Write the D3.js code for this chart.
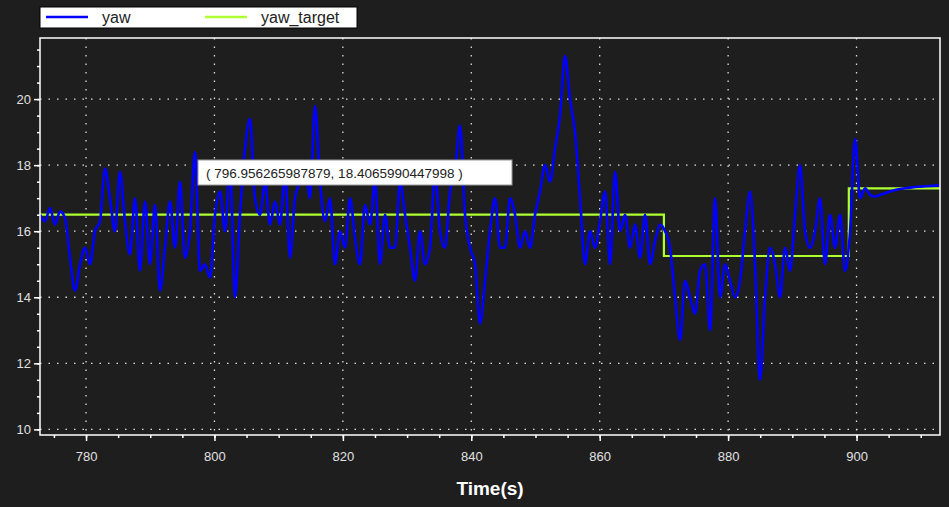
<!DOCTYPE html>
<html><head><meta charset="utf-8">
<script src="https://cdn.jsdelivr.net/npm/d3@7"></script>
<style>body{margin:0;background:#1e1e1e;}svg{display:block;font-family:"Liberation Sans",Arial,sans-serif;}</style>
</head><body><svg id="c" width="949" height="507"></svg>
<script>
const seriesNames = ["yaw", "yaw_target"];
const xTicks = [780, 800, 820, 840, 860, 880, 900];
const yTicks = [10, 12, 14, 16, 18, 20];
const sampleStart = 772.83, sampleStep = 0.7788;
const yaw = [16.5,16.3,16.7,16.2,16.6,16.4,15.2,14.2,15.0,15.5,15.0,16.0,16.3,17.9,17.0,16.0,17.8,16.3,15.3,17.0,
14.8,16.9,15.0,16.8,14.2,15.5,16.9,15.5,17.5,15.2,16.0,18.4,14.8,15.0,14.6,16.5,17.2,16.0,18.0,14.0,
16.5,18.5,19.4,17.0,16.5,17.5,16.2,16.9,16.2,17.8,15.2,17.0,17.5,18.0,17.0,19.8,17.5,16.3,17.0,15.0,
16.0,15.5,17.0,15.8,15.0,16.8,16.2,17.5,15.0,16.5,15.5,15.5,17.5,16.5,15.5,14.5,16.0,15.0,15.5,17.8,
16.0,15.5,17.2,17.8,19.2,16.5,15.5,15.0,13.2,14.5,16.0,17.0,15.5,15.5,17.0,16.5,15.5,16.0,15.5,16.5,
17.2,18.0,17.5,18.5,19.5,21.3,20.0,19.0,17.0,15.0,16.0,15.5,16.3,17.2,15.0,17.8,16.0,16.5,15.5,16.2,
15.2,16.5,15.0,15.7,16.2,16.0,15.5,14.0,12.7,14.5,14.0,13.5,14.8,15.0,13.0,17.0,14.0,15.0,14.5,14.0,
14.5,16.0,17.2,15.0,11.5,14.0,15.5,15.0,14.0,15.5,14.8,16.5,18.0,16.0,15.5,16.0,17.0,15.0,16.5,15.5,
16.5,14.8,16.0,18.8,17.0,17.3,17.1,17.05,17.1,17.15,17.2,17.25,17.28,17.3,17.32,17.34,17.35,17.36,17.37,17.38,
17.39,17.4,17.4,17.4];
const targetTimes = [772.8, 870.0, 898.8, 913];
const targetValues = [16.5, 15.25, 17.3, 17.3];
const tooltipText = "( 796.956265987879, 18.4065990447998 )";

const svg = d3.select("#c");
const L=40,R=940,T=38,B=435;
const x = d3.scaleLinear().domain([772.83, 913]).range([L,R]);
const y = d3.scaleLinear().domain([9.83, 21.85]).range([B,T]);

// grid
const g = svg.append("g");
g.selectAll(".vx").data(xTicks).join("line").attr("x1",d=>x(d)).attr("x2",d=>x(d)).attr("y1",T).attr("y2",B)
 .attr("stroke","#ddd").attr("stroke-width",1.3).attr("stroke-dasharray","1.5,7");
g.selectAll(".hy").data(yTicks).join("line").attr("y1",d=>y(d)).attr("y2",d=>y(d)).attr("x1",L).attr("x2",R)
 .attr("stroke","#ddd").attr("stroke-width",1.3).attr("stroke-dasharray","1.5,7");

const clip = svg.append("clipPath").attr("id","cp").append("rect").attr("x",L).attr("y",T).attr("width",R-L).attr("height",B-T);
const plot = svg.append("g").attr("clip-path","url(#cp)");
const tgt = targetTimes.map((t,i)=>[t,targetValues[i]]);
plot.append("path").datum(tgt).attr("fill","none").attr("stroke","#adff2f").attr("stroke-width",2.2)
 .attr("d",d3.line().x(d=>x(d[0])).y(d=>y(d[1])).curve(d3.curveStepAfter));
const yd = yaw.map((v,i)=>[sampleStart+i*sampleStep, v]);
plot.append("path").datum(yd).attr("fill","none").attr("stroke","#0000ff").attr("stroke-width",2.6)
 .attr("stroke-linejoin","round")
 .attr("d",d3.line().x(d=>x(d[0])).y(d=>y(d[1])).curve(d3.curveMonotoneX));

// frame
svg.append("rect").attr("x",L).attr("y",T).attr("width",R-L).attr("height",B-T).attr("fill","none").attr("stroke","#fff").attr("stroke-width",1.5);

// axes
const xa = svg.append("g").attr("transform",`translate(0,${B})`)
 .call(d3.axisBottom(x).tickValues(xTicks).tickSize(6).tickFormat(d3.format("d")));
const xm = svg.append("g").attr("transform",`translate(0,${B})`)
 .call(d3.axisBottom(x).tickValues(d3.range(775,913,5)).tickSize(3).tickFormat(""));
const ya = svg.append("g").attr("transform",`translate(${L},0)`)
 .call(d3.axisLeft(y).tickValues(yTicks).tickSize(6).tickFormat(d3.format("d")));
const ym = svg.append("g").attr("transform",`translate(${L},0)`)
 .call(d3.axisLeft(y).tickValues(d3.range(10,21.9,0.5)).tickSize(3).tickFormat(""));
[xa,xm,ya,ym].forEach(a=>{a.select(".domain").remove();a.selectAll("line").attr("stroke","#fff").attr("stroke-width",1.5);
 a.selectAll("text").attr("fill","#e0e0e0").attr("font-size",13);});
xa.selectAll("text").attr("dy","1.3em");
svg.append("text").attr("x",(L+R)/2).attr("y",495).attr("text-anchor","middle").attr("fill","#fff")
 .attr("font-size",19).attr("font-weight","bold").text("Time(s)");

// legend
const lg = svg.append("g");
lg.append("rect").attr("x",40).attr("y",7).attr("width",317).attr("height",21).attr("fill","#fff").attr("stroke","#000");
const lc = ["#0000ff","#adff2f"], lx=[46,205];
seriesNames.forEach((n,i)=>{
 lg.append("line").attr("x1",lx[i]).attr("x2",lx[i]+42).attr("y1",17).attr("y2",17).attr("stroke",lc[i]).attr("stroke-width",2.5);
 lg.append("text").attr("x",lx[i]+56).attr("y",23).attr("font-size",16).attr("fill","#222").text(n);
});

// tooltip
svg.append("rect").attr("x",198).attr("y",160).attr("width",314).attr("height",25).attr("fill","#fff").attr("stroke","#999");
svg.append("text").attr("x",206).attr("y",178).attr("font-size",13.5).attr("fill","#222").text(tooltipText);
</script></body></html>
